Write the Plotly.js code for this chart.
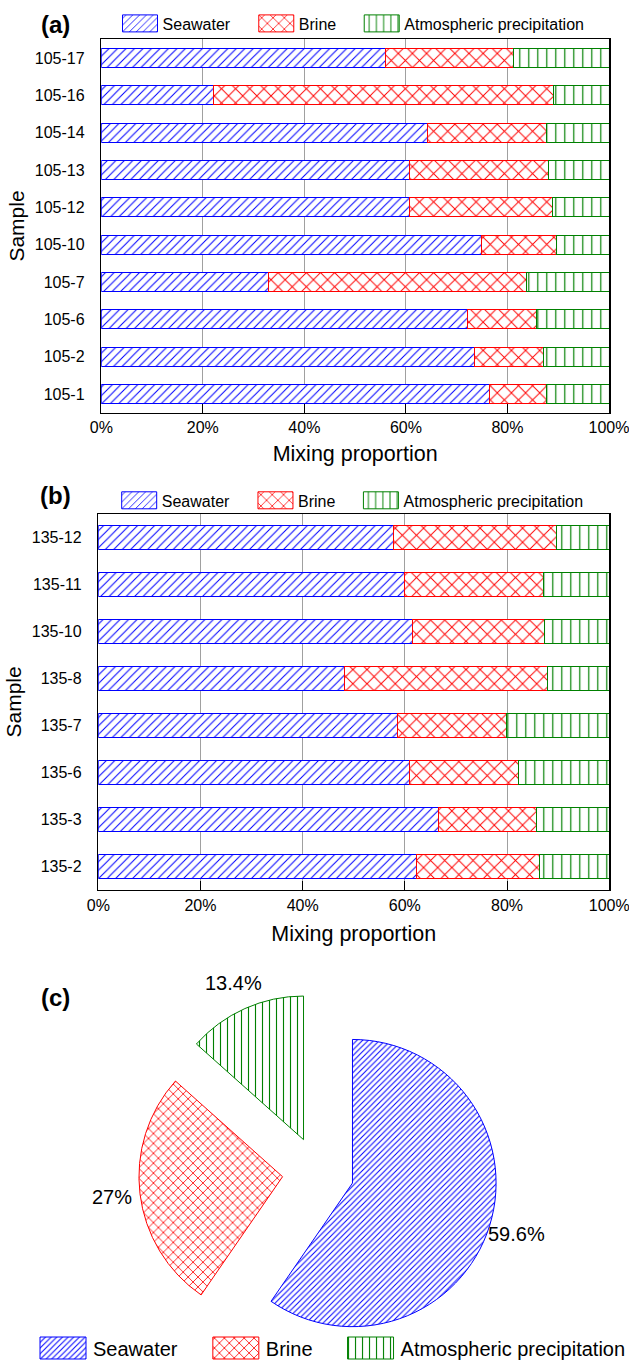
<!DOCTYPE html>
<html>
<head>
<meta charset="utf-8">
<script src="https://cdn.plot.ly/plotly-3.0.1.min.js"></script>
<style>
  html, body { margin: 0; padding: 0; background: #ffffff; }
  #chart { width: 629px; height: 1363px; }
</style>
</head>
<body>
<div id="chart"></div>
<script>
// Samples from borehole 105 (top to bottom)
const samplesA = ['105-17', '105-16', '105-14', '105-13', '105-12', '105-10', '105-7', '105-6', '105-2', '105-1'];
const seawaterA = [56.0, 22.1, 64.2, 60.8, 60.8, 74.9, 33.0, 72.2, 73.5, 76.4];
const brineA    = [25.2, 66.9, 23.5, 27.3, 28.0, 14.8, 50.8, 13.6, 13.5, 11.3];
const atmosA    = [18.8, 11.0, 12.3, 11.9, 11.2, 10.3, 16.2, 14.2, 13.0, 12.3];

// Samples from borehole 135 (top to bottom)
const samplesB = ['135-12', '135-11', '135-10', '135-8', '135-7', '135-6', '135-3', '135-2'];
const seawaterB = [57.8, 59.9, 61.5, 48.2, 58.6, 61.0, 66.6, 62.2];
const brineB    = [31.8, 27.3, 25.8, 39.8, 21.3, 21.3, 19.1, 24.2];
const atmosB    = [10.4, 12.8, 12.7, 12.0, 20.1, 17.7, 14.3, 13.6];

// Overall mixing proportions
const sources = ['Seawater', 'Brine', 'Atmospheric precipitation'];
const overall = [59.6, 27, 13.4];

const xTicks = [0, 20, 40, 60, 80, 100];

const W = 629, H = 1363;
const px = v => v / W;          // horizontal pixel -> paper fraction
const py = v => 1 - v / H;      // vertical pixel -> paper fraction

const BLUE = '#0000ff', RED = '#ff0000', GREEN = '#008000';
const FONT = 'Liberation Sans, Arial, sans-serif';

const styles = [
  {name: sources[0], color: BLUE,  shape: '/', size: 6,  solidity: 0.17},
  {name: sources[1], color: RED,   shape: 'x', size: 10, solidity: 0.18},
  {name: sources[2], color: GREEN, shape: '|', size: 9,  solidity: 0.13}
];

function barTraces(samples, series, xa, ya, legend, width) {
  return series.map((vals, i) => ({
    type: 'bar',
    orientation: 'h',
    x: vals,
    y: samples,
    name: styles[i].name,
    xaxis: xa,
    yaxis: ya,
    legend: legend,
    width: width,
    hoverinfo: 'skip',
    marker: {
      color: styles[i].color,
      line: {color: styles[i].color, width: 1},
      pattern: {
        shape: styles[i].shape,
        fgcolor: styles[i].color,
        bgcolor: '#ffffff',
        size: styles[i].size,
        solidity: styles[i].solidity,
        fillmode: 'replace'
      }
    }
  }));
}

// pie geometry (pixels)
const pieCx = 318.2, pieCy = 1172.4, pieR = 143.6, piePull = 0.25;
const pieHalf = pieR * (1 + piePull);
const labelDist = pieHalf + 28.5;

const traces = [
  ...barTraces(samplesA, [seawaterA, brineA, atmosA], 'x', 'y', 'legend', 0.51),
  ...barTraces(samplesB, [seawaterB, brineB, atmosB], 'x2', 'y2', 'legend2', 0.5),
  {
    type: 'pie',
    labels: sources,
    values: overall,
    sort: false,
    direction: 'clockwise',
    rotation: 0,
    pull: overall.map(() => piePull),
    textinfo: 'none',
    automargin: false,
    hoverinfo: 'skip',
    legend: 'legend3',
    domain: {
      x: [px(pieCx - pieHalf), px(pieCx + pieHalf)],
      y: [py(pieCy + pieHalf), py(pieCy - pieHalf)]
    },
    marker: {
      colors: [BLUE, RED, GREEN],
      line: {color: [BLUE, RED, GREEN], width: 1},
      pattern: {
        shape: ['/', 'x', '|'],
        fgcolor: [BLUE, RED, GREEN],
        bgcolor: ['#ffffff', '#ffffff', '#ffffff'],
        size: [4, 7, 7],
        solidity: [0.25, 0.22, 0.16],
        fillmode: 'replace'
      }
    }
  }
];

// percentage labels just outside each slice, along its middle angle
const total = overall.reduce((a, b) => a + b, 0);
let cum = 0;
const pieLabels = overall.map(v => {
  const mid = 2 * Math.PI * (cum + v / 2) / total;
  cum += v;
  return {
    text: v + '%',
    x: px(pieCx + labelDist * Math.sin(mid)),
    y: py(pieCy - labelDist * Math.cos(mid)),
    xref: 'paper', yref: 'paper',
    xanchor: 'center', yanchor: 'middle',
    showarrow: false,
    font: {size: 20}
  };
});

function xAxis(domain, anchor, standoff) {
  return {
    domain: domain,
    anchor: anchor,
    range: [0, 100],
    tickmode: 'array',
    tickvals: xTicks,
    ticktext: xTicks.map(v => v + '%'),
    ticklabeloverflow: 'allow',
    showgrid: true,
    gridcolor: '#a0a0a0',
    gridwidth: 1,
    zeroline: false,
    showline: true,
    linecolor: '#000000',
    linewidth: 1.5,
    mirror: true,
    ticks: 'inside',
    ticklen: 9,
    tickcolor: '#000000',
    tickwidth: 1,
    tickfont: {size: 16},
    ticklabelstandoff: 0,
    title: {text: 'Mixing proportion', font: {size: 21.5}, standoff: standoff},
    fixedrange: true
  };
}

function yAxis(domain, anchor, n) {
  return {
    domain: domain,
    anchor: anchor,
    type: 'category',
    range: [n - 0.5, -0.5],
    showgrid: false,
    zeroline: false,
    showline: true,
    linecolor: '#000000',
    linewidth: 1.5,
    mirror: true,
    ticks: '',
    tickfont: {size: 16},
    ticklabelstandoff: 12,
    title: {text: 'Sample', font: {size: 21}, standoff: 4},
    fixedrange: true
  };
}

function legendAt(xPix, yPix, itemwidth, fontSize) {
  return {
    orientation: 'h',
    traceorder: 'normal',
    x: px(xPix),
    xanchor: 'left',
    y: py(yPix),
    yanchor: 'middle',
    itemwidth: itemwidth,
    font: {size: fontSize, color: '#000000', family: FONT},
    bgcolor: 'rgba(0,0,0,0)',
    borderwidth: 0,
    itemclick: false,
    itemdoubleclick: false
  };
}

const panelLabel = (t, x, y) => ({
  text: '<b>' + t + '</b>', x: px(x), y: py(y), xref: 'paper', yref: 'paper',
  xanchor: 'center', yanchor: 'middle', showarrow: false, font: {size: 24}
});

const layout = {
  width: W,
  height: H,
  margin: {l: 0, r: 0, t: 0, b: 0, pad: 0, autoexpand: false},
  paper_bgcolor: '#ffffff',
  plot_bgcolor: '#ffffff',
  font: {family: FONT, color: '#000000', size: 16},
  barmode: 'stack',
  xaxis: xAxis([px(101.3), px(609)], 'y', 10),
  yaxis: yAxis([py(412.7), py(39.3)], 'x', samplesA.length),
  xaxis2: xAxis([px(98.3), px(609.2)], 'y2', 13),
  yaxis2: yAxis([py(889.8), py(514)], 'x2', samplesB.length),
  legend: legendAt(99.6, 23.5, 53, 16),
  legend2: legendAt(98.8, 500.4, 53, 16),
  legend3: legendAt(10, 1348, 73, 20),
  annotations: [
    panelLabel('(a)', 56, 24),
    panelLabel('(b)', 56, 495),
    panelLabel('(c)', 56, 997),
    ...pieLabels
  ],
  hovermode: false
};

Plotly.newPlot('chart', traces, layout, {staticPlot: true, displayModeBar: false}).then(gd => {
  // wide pattern swatches, sitting just left of each legend text
  gd.querySelectorAll('g.legendpoints path').forEach(p => {
    if ((p.getAttribute('d') || '').indexOf('M6,6') !== 0) return;
    if (p.classList.contains('legendpie')) {
      p.setAttribute('d', 'M34.5,11H-11.5V-11H34.5Z');
    } else {
      p.setAttribute('d', 'M26.4,8.5H-8.6V-8.5H26.4Z');
    }
  });
});
</script>
</body>
</html>
